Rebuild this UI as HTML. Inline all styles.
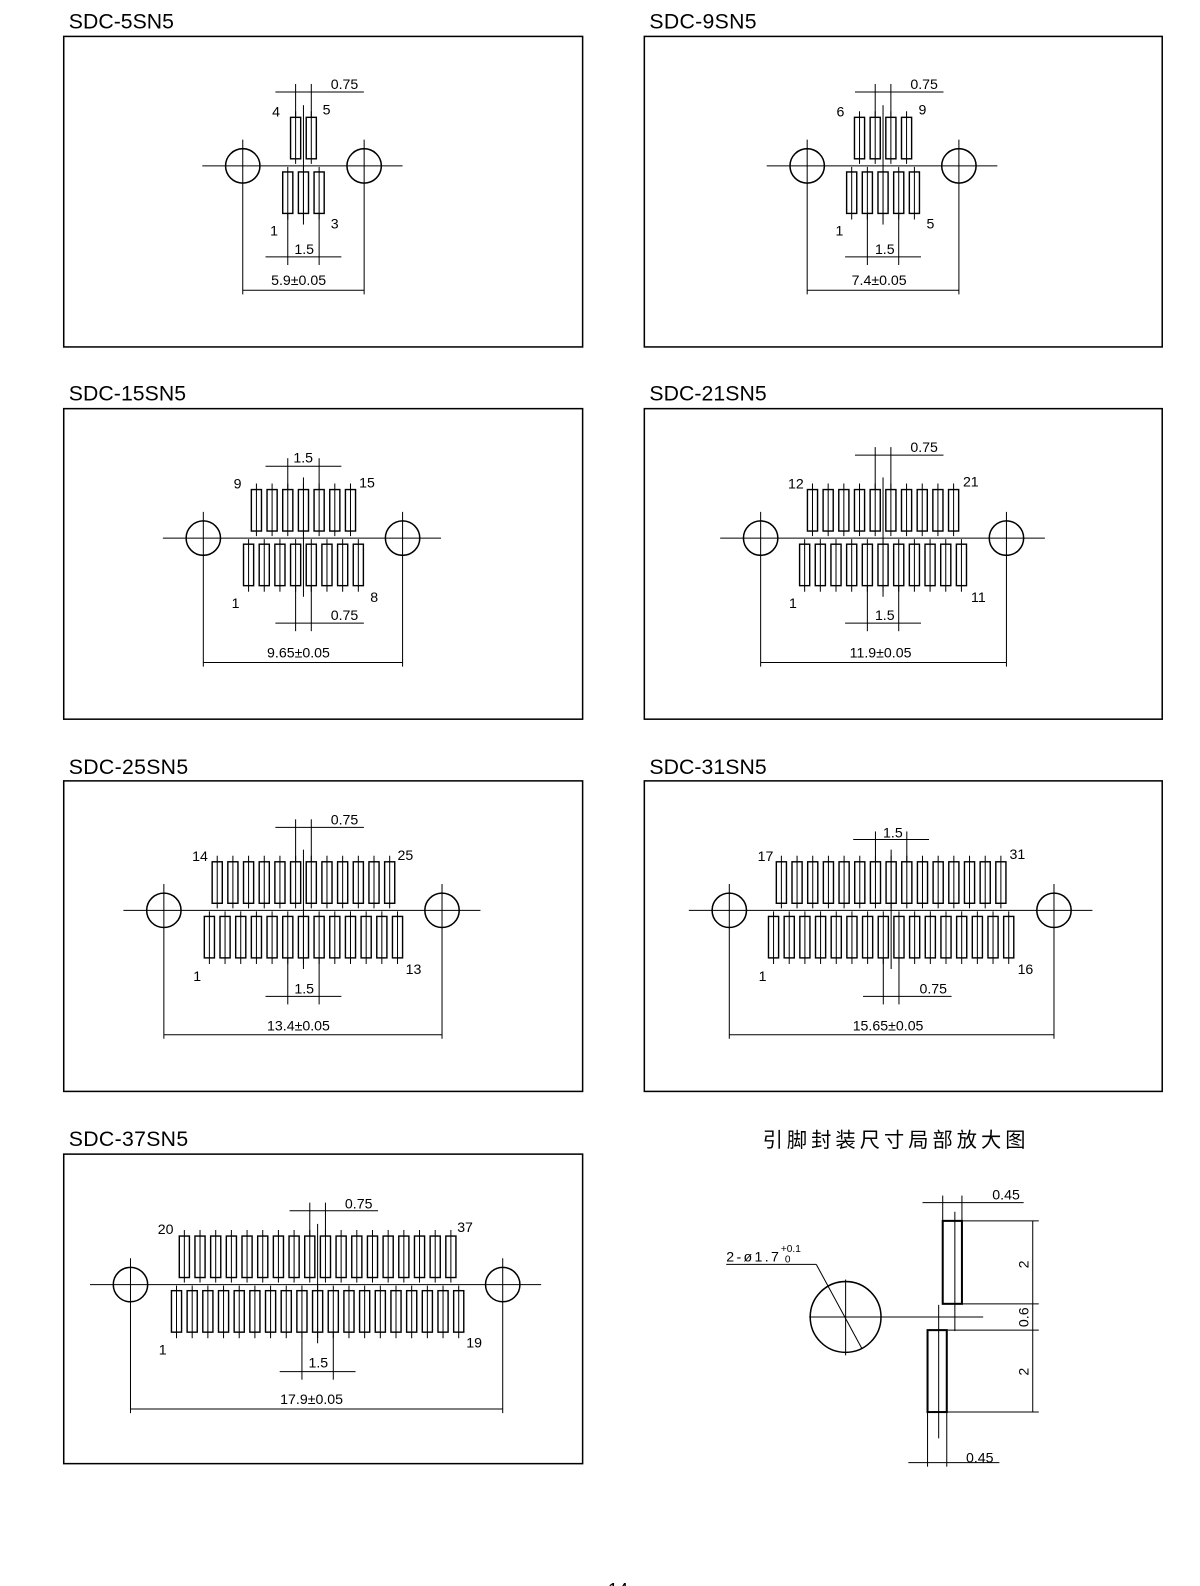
<!DOCTYPE html>
<html><head><meta charset="utf-8"><style>
html,body{margin:0;padding:0;background:#fff;overflow:hidden;width:1200px;height:1586px;}
svg{display:block;}
text{font-family:"Liberation Sans","Noto Sans CJK SC",sans-serif;fill:#000;}
.t{font-size:21px;}
.s{font-size:14px;}
</style></head><body>
<svg id="d" width="1200" height="1586" viewBox="0 0 1200 1586" xmlns="http://www.w3.org/2000/svg">
<g transform="scale(1.0115)">
<g fill="none" stroke="#000" stroke-width="1.5">
<rect x="63" y="36" width="513" height="307"/>
<rect x="637" y="36" width="512" height="307"/>
<rect x="63" y="404" width="513" height="307"/>
<rect x="637" y="404" width="512" height="307"/>
<rect x="63" y="772" width="513" height="307"/>
<rect x="637" y="772" width="512" height="307"/>
<rect x="63" y="1141" width="513" height="306"/>
</g>
<g id="geo" fill="none" stroke="#000" stroke-width="1"></g>
<text class="t" x="68" y="28" textLength="104">SDC-5SN5</text>
<text class="t" x="642" y="28" textLength="106">SDC-9SN5</text>
<text class="t" x="68" y="396" textLength="116">SDC-15SN5</text>
<text class="t" x="642" y="396" textLength="116">SDC-21SN5</text>
<text class="t" x="68" y="765" textLength="118">SDC-25SN5</text>
<text class="t" x="642" y="765" textLength="116">SDC-31SN5</text>
<text class="t" x="68" y="1133" textLength="118">SDC-37SN5</text>

<g class="s">
<text x="269" y="115">4</text><text x="319" y="113">5</text><text x="267" y="233">1</text><text x="327" y="226">3</text>
<text x="327" y="88">0.75</text><text x="291" y="251">1.5</text><text x="268" y="282">5.9±0.05</text>

<text x="827" y="115">6</text><text x="908" y="113">9</text><text x="826" y="233">1</text><text x="916" y="226">5</text>
<text x="900" y="88">0.75</text><text x="865" y="251">1.5</text><text x="842" y="282">7.4±0.05</text>

<text x="231" y="483">9</text><text x="355" y="482">15</text><text x="229" y="601">1</text><text x="366" y="595">8</text>
<text x="290" y="457">1.5</text><text x="327" y="613">0.75</text><text x="264" y="650">9.65±0.05</text>

<text x="779" y="483">12</text><text x="952" y="481">21</text><text x="780" y="601">1</text><text x="960" y="595">11</text>
<text x="900" y="447">0.75</text><text x="865" y="613">1.5</text><text x="840" y="650">11.9±0.05</text>

<text x="190" y="851">14</text><text x="393" y="850">25</text><text x="191" y="970">1</text><text x="401" y="963">13</text>
<text x="327" y="815">0.75</text><text x="291" y="982">1.5</text><text x="264" y="1019">13.4±0.05</text>

<text x="749" y="851">17</text><text x="998" y="849">31</text><text x="750" y="970">1</text><text x="1006" y="963">16</text>
<text x="873" y="828">1.5</text><text x="909" y="982">0.75</text><text x="843" y="1019">15.65±0.05</text>

<text x="156" y="1220">20</text><text x="452" y="1218">37</text><text x="157" y="1339">1</text><text x="461" y="1332">19</text>
<text x="341" y="1195">0.75</text><text x="305" y="1352">1.5</text><text x="277" y="1388">17.9±0.05</text>

<text x="981" y="1186">0.45</text>
<text x="955" y="1446">0.45</text>
<text x="718" y="1247" textLength="52">2-ø1.7</text><text x="772" y="1238" style="font-size:10px">+0.1</text><text x="776" y="1248" style="font-size:10px">0</text>
<text transform="translate(1017,1254) rotate(-90)">2</text>
<text transform="translate(1017,1312) rotate(-90)">0.6</text>
<text transform="translate(1017,1360) rotate(-90)">2</text>
</g>
<text x="754" y="1134" style="font-size:20px;letter-spacing:4px">引脚封装尺寸局部放大图</text>
<text x="601" y="1578" style="font-size:18px">14</text>
</g>
</svg>
<script>
var g=document.getElementById('geo');
function L(x1,y1,x2,y2,w){var e=document.createElementNS('http://www.w3.org/2000/svg','line');e.setAttribute('x1',x1);e.setAttribute('y1',y1);e.setAttribute('x2',x2);e.setAttribute('y2',y2);if(w)e.setAttribute('stroke-width',w);g.appendChild(e);}
function R(x,y,w,h,sw){var e=document.createElementNS('http://www.w3.org/2000/svg','rect');e.setAttribute('x',x);e.setAttribute('y',y);e.setAttribute('width',w);e.setAttribute('height',h);e.setAttribute('stroke-width',sw||1.4);g.appendChild(e);}
function C(x,y,r){var e=document.createElementNS('http://www.w3.org/2000/svg','circle');e.setAttribute('cx',x);e.setAttribute('cy',y);e.setAttribute('r',r);e.setAttribute('stroke-width',1.5);g.appendChild(e);}
var p=15.5;
function panel(cx,cy,nb,h1,h2,topDim,topLbl,botDim,botLbl){
  L(h1-40,cy,h2+38,cy);
  [h1,h2].forEach(function(h){C(h,cy,17);L(h,cy-26,h,cy+127);});
  var dy=cy+123; L(h1,dy,h2,dy);
  var x0=cx-(nb-1)*p/2;
  for(var i=0;i<nb;i++){var x=x0+i*p;R(x-5,cy+6,10,41);L(x,cy+1,x,cy+53);}
  for(var i=0;i<nb-1;i++){var x=x0+(i+0.5)*p;R(x-5,cy-48,10,41);L(x,cy-54,x,cy-2);}
  L(cx,cy-60,cx,cy+58);
  function dim(y,xa,xb,lbl,up){
    var ext=up?[y-8,cy-48]:[cy+47,y+8];
    L(xa,ext[0],xa,ext[1]);L(xb,ext[0],xb,ext[1]);
    if(lbl=='0.75'){L(xa-20,y,xb+52,y);}else{L(xa-22,y,xb+22,y);}
  }
  var hp=p/2;
  var a=(topLbl=='1.5')?[cx-p,cx+p]:[cx-hp,cx+hp];
  dim(topDim,a[0],a[1],topLbl,true);
  var b=(botLbl=='1.5')?[cx-p,cx+p]:[cx-hp,cx+hp];
  dim(botDim,b[0],b[1],botLbl,false);
}
panel(300,164,3,240,360,91,'0.75',254,'1.5');
panel(873,164,5,798,948,91,'0.75',254,'1.5');
panel(300,532,8,201,398,461,'1.5',616,'0.75');
panel(873,532,11,752,995,450,'0.75',616,'1.5');
panel(300,900,13,162,437,818,'0.75',985,'1.5');
panel(881,900,16,721,1042,830,'1.5',985,'0.75');
panel(314,1270,19,129,497,1197,'0.75',1356,'1.5');
C(836,1302,35);L(800,1302,972,1302);L(836,1265,836,1340);
R(932,1207,19,82,2);L(944,1198,944,1316);
R(917,1315,19,81,2);L(928,1290,928,1422);
L(951,1207,1027,1207);L(951,1289,1027,1289);L(936,1315,1027,1315);L(936,1396,1027,1396);
L(1021,1207,1021,1396);
L(932,1182,932,1207);L(951,1182,951,1207);L(912,1189,1012,1189);
L(917,1396,917,1450);L(936,1396,936,1450);L(898,1446,988,1446);
L(718,1250,807,1250);L(807,1250,852,1333);
</script>
</body></html>
